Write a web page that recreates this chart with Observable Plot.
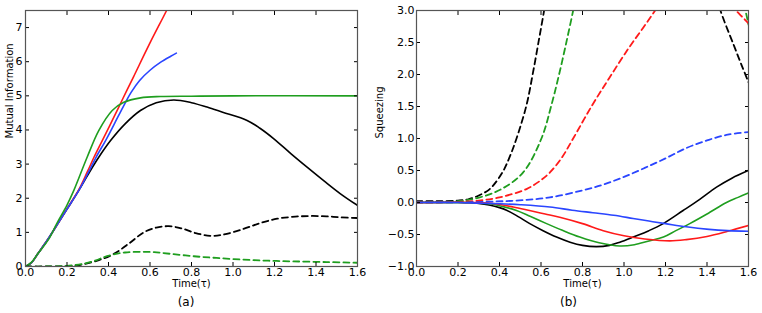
<!DOCTYPE html>
<html><head><meta charset="utf-8">
<script src="https://cdn.jsdelivr.net/npm/d3@7"></script>
<script src="https://cdn.jsdelivr.net/npm/@observablehq/plot@0.6"></script>
<style>
body{margin:0;background:#fff;}
#wrap{display:flex;width:762px;height:313px;overflow:hidden;}
</style></head><body><div id="wrap"></div>
<script>
// ---- tick values ----
const xTicks = [0, 0.2, 0.4, 0.6, 0.8, 1.0, 1.2, 1.4, 1.6];
const miTicks = [0, 1, 2, 3, 4, 5, 6, 7];
const sqTicks = [-1.0, -0.5, 0.0, 0.5, 1.0, 1.5, 2.0, 2.5, 3.0];

// ---- panel (a): Mutual Information, [time, value] ----
const miBlack = [[0,0],[0.03,0.12],[0.06,0.38],[0.104,0.76],[0.15,1.2],[0.2,1.68],[0.257,2.23],[0.3,2.68],[0.353,3.2],[0.41,3.69],[0.48,4.18],[0.554,4.57],[0.63,4.8],[0.715,4.88],[0.8,4.8],[0.875,4.67],[0.95,4.52],[1.068,4.28],[1.13,4.05],[1.197,3.74],[1.28,3.3],[1.357,2.91],[1.44,2.5],[1.518,2.13],[1.6,1.79]];
const miRed = [[0,0],[0.03,0.12],[0.06,0.38],[0.104,0.76],[0.15,1.2],[0.2,1.69],[0.257,2.25],[0.3,2.8],[0.33,3.2],[0.37,3.69],[0.42,4.3],[0.47,4.93],[0.52,5.55],[0.6,6.55],[0.68,7.5],[0.72,8.0]];
const miBlue = [[0,0],[0.03,0.12],[0.06,0.38],[0.104,0.76],[0.15,1.2],[0.2,1.68],[0.257,2.23],[0.3,2.72],[0.34,3.2],[0.386,3.69],[0.43,4.2],[0.47,4.67],[0.509,5.1],[0.55,5.45],[0.6,5.75],[0.65,5.98],[0.7,6.16],[0.727,6.25]];
const miGreen = [[0,0],[0.03,0.13],[0.06,0.38],[0.112,0.8],[0.15,1.25],[0.2,1.8],[0.233,2.23],[0.297,3.2],[0.353,3.98],[0.418,4.57],[0.474,4.81],[0.554,4.94],[0.65,4.98],[0.8,4.99],[1.0,5.0],[1.6,5.0]];
const miBlackDash = [[0,0],[0.1,0],[0.2,0.01],[0.265,0.05],[0.35,0.18],[0.426,0.37],[0.5,0.68],[0.57,1.0],[0.63,1.14],[0.69,1.18],[0.75,1.12],[0.82,0.98],[0.89,0.9],[0.95,0.93],[1.05,1.1],[1.13,1.27],[1.213,1.4],[1.3,1.46],[1.373,1.48],[1.45,1.47],[1.52,1.44],[1.6,1.42]];
const miGreenDash = [[0,0],[0.1,0],[0.2,0.02],[0.28,0.08],[0.34,0.18],[0.377,0.27],[0.43,0.36],[0.48,0.41],[0.55,0.43],[0.62,0.42],[0.7,0.37],[0.811,0.3],[0.92,0.25],[1.05,0.2],[1.17,0.17],[1.29,0.15],[1.45,0.13],[1.6,0.11]];

// ---- panel (b): Squeezing, [time, value]; NaN = gap (curve off scale) ----
const sqBlack = [[0,0],[0.2,0],[0.26,-0.005],[0.3,-0.015],[0.35,-0.04],[0.4,-0.08],[0.434,-0.12],[0.49,-0.22],[0.546,-0.33],[0.61,-0.44],[0.675,-0.54],[0.74,-0.62],[0.8,-0.67],[0.867,-0.69],[0.93,-0.67],[0.98,-0.62],[1.044,-0.54],[1.12,-0.44],[1.189,-0.33],[1.285,-0.125],[1.365,0.05],[1.446,0.24],[1.52,0.38],[1.6,0.5]];
const sqGreen = [[0,0],[0.25,0],[0.3,-0.008],[0.35,-0.02],[0.4,-0.05],[0.482,-0.125],[0.55,-0.22],[0.627,-0.33],[0.7,-0.43],[0.787,-0.54],[0.88,-0.63],[0.98,-0.68],[1.05,-0.66],[1.12,-0.6],[1.19,-0.54],[1.25,-0.44],[1.317,-0.33],[1.4,-0.18],[1.494,0],[1.55,0.08],[1.6,0.15]];
const sqRed = [[0,0],[0.3,0],[0.38,-0.02],[0.466,-0.07],[0.55,-0.13],[0.62,-0.18],[0.69,-0.23],[0.8,-0.33],[0.9,-0.44],[1.0,-0.52],[1.1,-0.57],[1.22,-0.6],[1.3,-0.58],[1.4,-0.53],[1.5,-0.45],[1.6,-0.36]];
const sqBlue = [[0,0],[0.2,0],[0.3,-0.01],[0.4,-0.02],[0.5,-0.035],[0.643,-0.07],[0.75,-0.12],[0.85,-0.16],[0.95,-0.2],[1.044,-0.25],[1.12,-0.29],[1.2,-0.33],[1.3,-0.38],[1.41,-0.42],[1.5,-0.44],[1.6,-0.45]];
const sqBlackDash = [[0,0.02],[0.1,0.02],[0.2,0.03],[0.25,0.05],[0.3,0.11],[0.353,0.21],[0.414,0.47],[0.45,0.72],[0.482,1.0],[0.53,1.52],[0.562,2.04],[0.591,2.56],[0.615,3.0],[0.63,3.3],[1.0,NaN],[1.45,3.2],[1.465,3.0],[1.53,2.45],[1.57,2.12],[1.6,1.88]];
const sqGreenDash = [[0,0.01],[0.2,0.02],[0.305,0.08],[0.41,0.21],[0.514,0.47],[0.602,1.0],[0.65,1.52],[0.69,2.04],[0.726,2.56],[0.755,3.0],[0.77,3.25],[1.2,NaN],[1.575,3.1],[1.585,3.0],[1.6,2.78]];
const sqRedDash = [[0,0],[0.2,0.01],[0.3,0.03],[0.4,0.08],[0.53,0.21],[0.6,0.35],[0.643,0.47],[0.7,0.7],[0.755,1.0],[0.843,1.5],[0.93,1.95],[1.02,2.4],[1.09,2.72],[1.15,3.0],[1.2,3.25],[1.3,NaN],[1.52,3.1],[1.54,3.0],[1.57,2.9],[1.6,2.8]];
const sqBlueDash = [[0,0],[0.3,0.01],[0.48,0.03],[0.643,0.08],[0.8,0.19],[0.9,0.28],[1.0,0.4],[1.1,0.54],[1.2,0.69],[1.3,0.85],[1.4,0.97],[1.5,1.06],[1.6,1.1]];

const RED = "#ff1a1a", BLUE = "#2a45ff", GREEN = "#1f9e1f", BLACK = "#000000";

const rows = (pairs) => pairs.map(([t, v]) => ({t, v}));
const solid = (pairs, stroke) => Plot.line(rows(pairs), {x: "t", y: "v", stroke, strokeWidth: 1.6, curve: "catmull-rom", clip: true});
const dashed = (pairs, stroke) => Plot.line(rows(pairs), {x: "t", y: "v", stroke, strokeWidth: 1.8, strokeDasharray: "6,4", curve: "catmull-rom", clip: true});

const fmt1 = d3.format(".1f");
const axes = (yTicks, yFmt, tickPad) => [
  Plot.axisX(xTicks, {anchor: "bottom", tickSize: -4, tickPadding: 6, tickFormat: fmt1, label: null, fontSize: 11, color: "black"}),
  Plot.axisX(xTicks, {anchor: "top", tickSize: -4, tickFormat: () => "", label: null, color: "black"}),
  Plot.axisY(yTicks, {anchor: "left", tickSize: -4, tickPadding: tickPad, tickFormat: yFmt, label: null, fontSize: 11, color: "black"}),
  Plot.axisY(yTicks, {anchor: "right", tickSize: -4, tickFormat: () => "", label: null, color: "black"}),
  Plot.frame({stroke: "#555", strokeWidth: 1.2})
];

const style = {fontFamily: "DejaVu Sans", fontSize: "11px", background: "white", overflow: "visible"};

const left = Plot.plot({
  width: 372, height: 313,
  marginTop: 10, marginBottom: 47, marginLeft: 25, marginRight: 15,
  style,
  x: {domain: [0, 1.6]},
  y: {domain: [0, 7.5]},
  marks: [
    solid(miBlack, BLACK),
    solid(miRed, RED),
    solid(miBlue, BLUE),
    solid(miGreen, GREEN),
    dashed(miBlackDash, BLACK),
    dashed(miGreenDash, GREEN),
    ...axes(miTicks, d3.format("d"), 7),
    Plot.text(["Mutual Information"], {frameAnchor: "left", dx: -16, rotate: -90, fontSize: 10, fill: "black"}),
    Plot.text(["Time(τ)"], {frameAnchor: "bottom", dy: 20, fontSize: 10, fill: "black"}),
    Plot.text(["(a)"], {frameAnchor: "bottom", dx: -5.5, dy: 39, fontSize: 12, fill: "black"})
  ]
});

const right = Plot.plot({
  width: 390, height: 313,
  marginTop: 10, marginBottom: 47, marginLeft: 44, marginRight: 14,
  style,
  x: {domain: [0, 1.6]},
  y: {domain: [-1, 3]},
  marks: [
    dashed(sqBlackDash, BLACK),
    dashed(sqGreenDash, GREEN),
    dashed(sqRedDash, RED),
    dashed(sqBlueDash, BLUE),
    solid(sqBlack, BLACK),
    solid(sqGreen, GREEN),
    solid(sqRed, RED),
    solid(sqBlue, BLUE),
    ...axes(sqTicks, fmt1, 6),
    Plot.text(["Squeezing"], {frameAnchor: "left", dx: -36.5, rotate: -90, fontSize: 10, fill: "black"}),
    Plot.text(["Time(τ)"], {frameAnchor: "bottom", dy: 20, fontSize: 10, fill: "black"}),
    Plot.text(["(b)"], {frameAnchor: "bottom", dx: -14, dy: 39, fontSize: 12, fill: "black"})
  ]
});

document.getElementById("wrap").append(left, right);
</script>
</body></html>
